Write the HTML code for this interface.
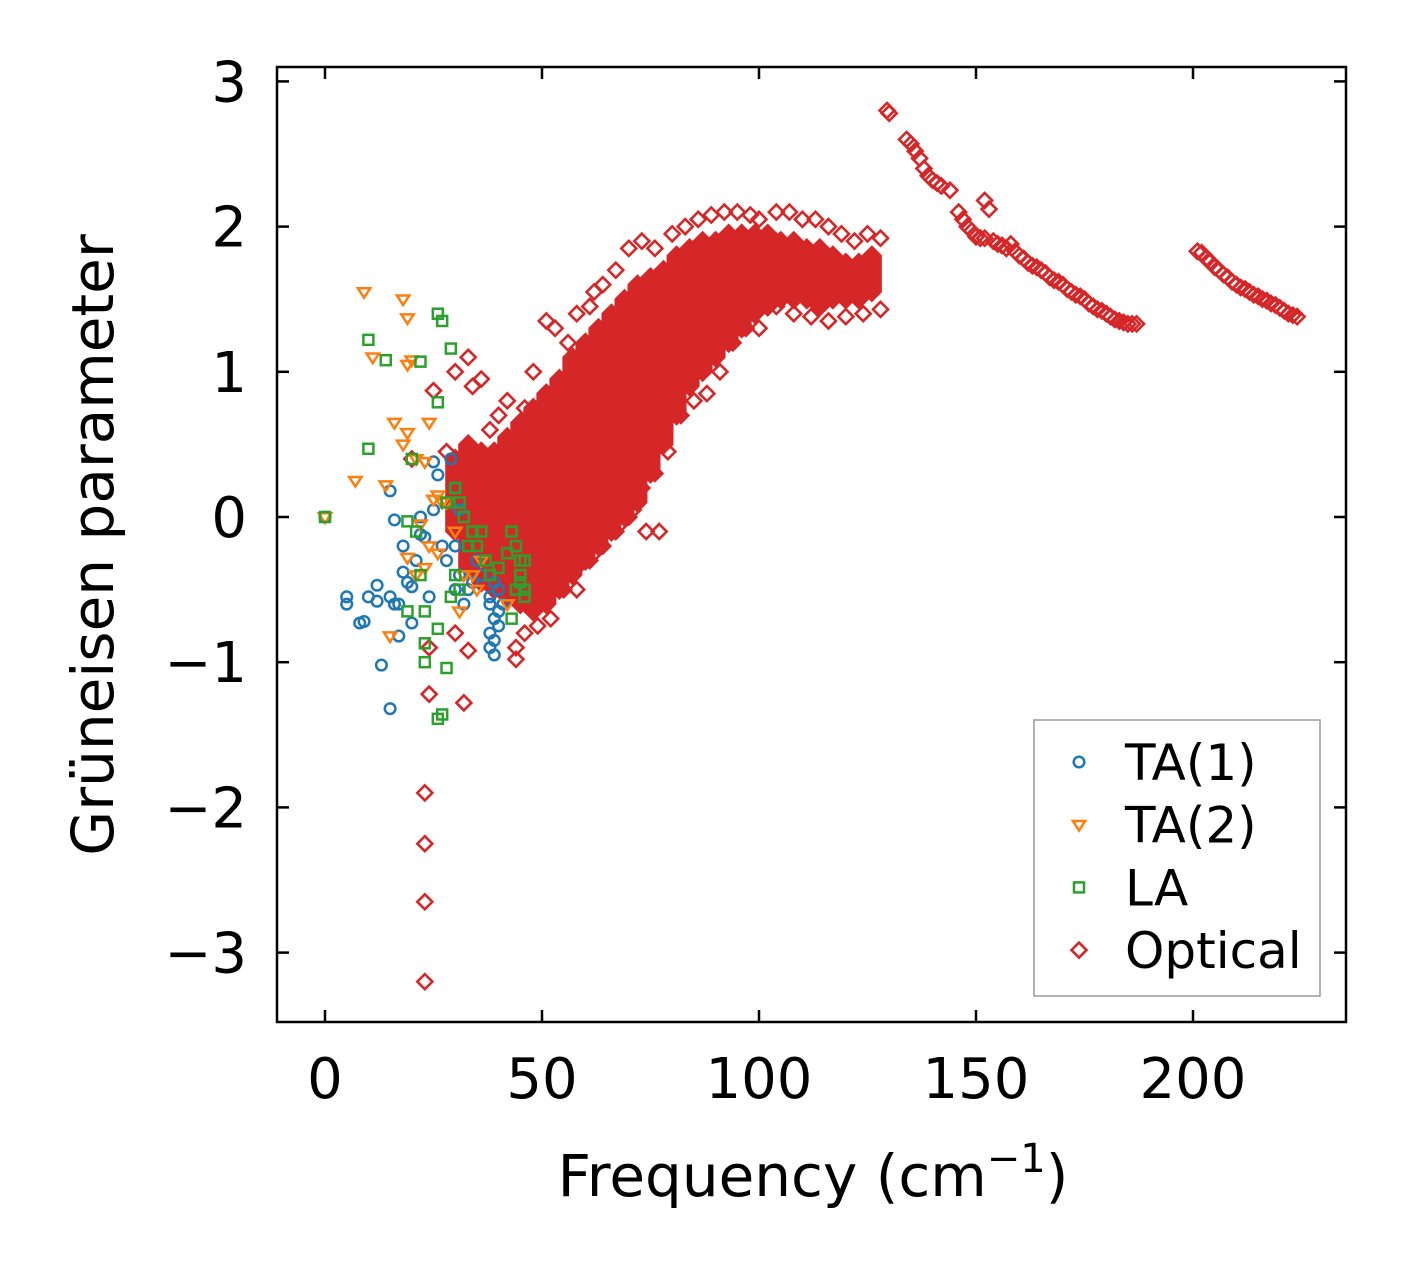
<!DOCTYPE html>
<html><head><meta charset="utf-8"><style>
html,body{margin:0;padding:0;background:#fff}
svg{display:block}
text{font-family:"DejaVu Sans","Liberation Sans",sans-serif;fill:#000}
</style></head><body>
<svg id="chart" width="1406" height="1270" viewBox="0 0 1406 1270" xmlns="http://www.w3.org/2000/svg">
<g id="marks"></g>
<g id="axes"></g>
</svg>
<script>
const xTicks=[0,50,100,150,200];
const yTicks=[-3,-2,-1,0,1,2,3];
const yTickLabels=["\u22123","\u22122","\u22121","0","1","2","3"];
const ta1=[[0,0],[5,-0.6],[5,-0.55],[8,-0.73],[9,-0.72],[10,-0.55],[12,-0.47],[12,-0.58],[13,-1.02],[15,0.18],[15,-0.55],[16,-0.02],[16,-0.6],[17,-0.6],[17,-0.82],[18,-0.2],[18,-0.38],[19,-0.45],[20,-0.48],[20,-0.73],[21,-0.3],[22,-0.12],[23,-0.14],[24,-0.55],[25,0.05],[25,0.38],[26,0.29],[27,-0.2],[28,-0.3],[29,0.4],[30,-0.5],[30,-0.2],[31,-0.4],[32,-0.6],[33,-0.5],[35,-0.3],[38,-0.6],[38,-0.8],[39,-0.7],[39,-0.95],[40,-0.5],[40,-0.75],[41,-0.6],[38,-0.9],[15,-1.32],[22,0.0],[30,0.2],[31,0.05],[34,-0.45],[36,-0.4],[39,-0.85],[40,-0.65],[38,-0.55],[39,-0.45]];
const ta2=[[0,0],[9,1.55],[11,1.1],[18,1.5],[19,1.37],[19,1.05],[20,1.08],[16,0.65],[18,0.5],[19,0.58],[24,0.65],[7,0.25],[14,0.22],[21,0.4],[23,0.38],[25,0.12],[26,0.15],[22,-0.05],[24,-0.2],[26,-0.25],[19,-0.28],[21,-0.4],[23,-0.35],[28,0.1],[30,-0.1],[32,-0.4],[34,-0.4],[15,-0.82],[36,-0.3],[42,-0.6],[35,-0.5],[31,-0.65],[27,0.1]];
const la=[[0,0],[10,1.22],[14,1.08],[22,1.07],[10,0.47],[26,0.79],[26,1.4],[27,1.35],[29,1.16],[20,0.4],[19,-0.03],[21,-0.1],[22,-0.4],[19,-0.65],[23,-0.65],[23,-0.87],[23,-1.0],[26,-0.77],[28,-1.04],[26,-1.39],[27,-1.36],[30,0.2],[31,0.1],[32,0.0],[33,-0.2],[34,-0.1],[35,-0.2],[36,-0.1],[37,-0.3],[38,-0.4],[40,-0.35],[43,-0.1],[44,-0.5],[45,-0.3],[45,-0.4],[46,-0.5],[46,-0.3],[44,-0.2],[42,-0.25],[43,-0.7],[30,-0.4],[31,-0.5],[28,0.1],[29,-0.55],[46,-0.55],[45,-0.45]];
const opticalBandF=[30,33,36,39,42,45,48,51,54,57,60,63,66,69,72,75,78,81,84,87,90,93,96,99,102,105,108,111,114,117,120,123,126];
const opticalBandLo=[-0.1,-0.35,-0.45,-0.5,-0.55,-0.6,-0.65,-0.6,-0.5,-0.4,-0.3,-0.2,-0.1,0,0.1,0.3,0.5,0.7,0.9,1.0,1.1,1.2,1.3,1.4,1.45,1.5,1.5,1.5,1.45,1.5,1.5,1.5,1.55];
const opticalBandHi=[0.4,0.5,0.45,0.45,0.55,0.65,0.75,0.85,0.95,1.1,1.2,1.3,1.4,1.5,1.6,1.65,1.7,1.8,1.85,1.9,1.9,1.95,1.95,1.95,1.95,1.9,1.9,1.85,1.85,1.8,1.75,1.75,1.8];
const optical=[[23,-1.9],[23,-2.25],[23,-2.65],[23,-3.2],[24,-1.22],[32,-1.28],[24,-0.9],[30,-0.8],[33,-0.92],[44,-0.98],[20,0.4],[25,0.87],[28,0.45],[30,1.0],[33,1.1],[34,0.9],[36,0.95],[40,0.7],[42,0.8],[46,0.75],[38,0.6],[48,1.0],[51,1.35],[53,1.3],[56,1.2],[58,1.4],[61,1.45],[62,1.55],[64,1.6],[67,1.7],[70,1.85],[73,1.9],[76,1.85],[80,1.95],[83,2.0],[86,2.05],[89,2.08],[92,2.1],[95,2.1],[98,2.08],[100,2.05],[104,2.1],[107,2.1],[110,2.05],[113,2.05],[116,2.0],[119,1.95],[122,1.9],[125,1.95],[128,1.92],[128,1.43],[124,1.4],[120,1.38],[116,1.35],[112,1.38],[108,1.4],[104,1.45],[100,1.3],[97,1.3],[94,1.2],[91,1.0],[88,0.85],[85,0.8],[82,0.7],[79,0.45],[76,0.3],[73,0.2],[70,0.0],[67,-0.1],[64,-0.2],[61,-0.3],[58,-0.35],[55,-0.5],[52,-0.7],[49,-0.75],[46,-0.8],[44,-0.9],[74,-0.1],[77,-0.1],[71,0.05],[68,-0.05],[62,-0.25],[58,-0.5],[129.5,2.8],[130,2.78],[134,2.6],[135,2.57],[136,2.52],[137,2.47],[138,2.4],[139,2.35],[140,2.32],[141,2.3],[142,2.28],[144,2.25],[146,2.1],[147,2.05],[148,2.0],[149,1.97],[150,1.93],[151,1.92],[152,2.18],[153,2.12],[152,1.92],[154,1.9],[155,1.88],[156,1.87],[157,1.85],[158,1.88],[159,1.83],[160,1.8],[161,1.78],[162,1.75],[163,1.73],[164,1.72],[165,1.7],[166,1.68],[167,1.65],[168,1.63],[169,1.62],[170,1.6],[171,1.57],[172,1.55],[173,1.53],[174,1.52],[175,1.5],[176,1.47],[177,1.45],[178,1.43],[179,1.42],[180,1.4],[181,1.38],[182,1.36],[183,1.35],[184,1.34],[185,1.33],[186,1.33],[187,1.33],[201,1.83],[202,1.82],[203,1.78],[204,1.76],[205,1.72],[206,1.7],[207,1.67],[208,1.65],[209,1.62],[210,1.6],[211,1.58],[212,1.57],[213,1.55],[214,1.53],[215,1.52],[216,1.5],[217,1.49],[218,1.47],[219,1.46],[220,1.44],[221,1.42],[222,1.4],[223,1.39],[224,1.38]];

const NS="http://www.w3.org/2000/svg";
const L=277,R=1346,T=67,B=1022;
const X0=325,XS=4.34, Y0=517,YS=145.2;
function sx(v){return X0+v*XS;}
function sy(v){return Y0-v*YS;}
function mk(tag,attrs,parent){const e=document.createElementNS(NS,tag);for(const k in attrs)e.setAttribute(k,attrs[k]);parent.appendChild(e);return e;}
const marks=document.getElementById('marks');
const axes=document.getElementById('axes');
const C={b:'#1f77b4',o:'#ff7f0e',g:'#2ca02c',r:'#d62728'};

function circle(x,y,col,parent){return mk('circle',{cx:x,cy:y,r:5.3,fill:'none',stroke:col,'stroke-width':2.5},parent);}
function tri(x,y,col,parent){const s=6.2;return mk('polygon',{points:`${x-s},${y-s*0.6} ${x+s},${y-s*0.6} ${x},${y+s*0.95}`,fill:'none',stroke:col,'stroke-width':2.5},parent);}
function sq(x,y,col,parent){return mk('rect',{x:x-5,y:y-5,width:10,height:10,fill:'none',stroke:col,'stroke-width':2.5},parent);}
function dia(x,y,col,parent,s){s=s||7.5;return mk('polygon',{points:`${x},${y-s} ${x+s},${y} ${x},${y+s} ${x-s},${y}`,fill:'none',stroke:col,'stroke-width':2.6},parent);}

const gOp=mk('g',{},marks);


opticalBandF.forEach((f,i)=>{
  const x=sx(f),y1=sy(opticalBandHi[i]),y2=sy(opticalBandLo[i]);
  const e=mk('polygon',{points:`${x},${y1-9} ${x+9},${y1} ${x+9},${y2} ${x},${y2+9} ${x-9},${y2} ${x-9},${y1}`,fill:C.r,stroke:C.r,'stroke-width':2},gOp);
  
  
});
optical.forEach(p=>{const e=dia(sx(p[0]),sy(p[1]),C.r,gOp);

});

const gT1=mk('g',{},marks);


ta1.forEach(p=>{const e=circle(sx(p[0]),sy(p[1]),C.b,gT1);

});
const gT2=mk('g',{},marks);


ta2.forEach(p=>{const e=tri(sx(p[0]),sy(p[1]),C.o,gT2);

});
const gLA=mk('g',{},marks);


la.forEach(p=>{const e=sq(sx(p[0]),sy(p[1]),C.g,gLA);

});

const fr=mk('rect',{x:L,y:T,width:R-L,height:B-T,fill:'none',stroke:'#000','stroke-width':2.5},axes);


xTicks.forEach(v=>{const x=sx(v);
  mk('line',{x1:x,y1:B,x2:x,y2:B-12,stroke:'#000','stroke-width':2.5},axes);
  mk('line',{x1:x,y1:T,x2:x,y2:T+12,stroke:'#000','stroke-width':2.5},axes);
  const t=mk('text',{x:x,y:1098,'text-anchor':'middle','font-size':56},axes);t.textContent=String(v);
  
  
});
yTicks.forEach((v,i)=>{const y=sy(v);
  mk('line',{x1:L,y1:y,x2:L+12,y2:y,stroke:'#000','stroke-width':2.5},axes);
  mk('line',{x1:R,y1:y,x2:R-12,y2:y,stroke:'#000','stroke-width':2.5},axes);
  const t=mk('text',{x:247,y:y+20,'text-anchor':'end','font-size':56},axes);t.textContent=yTickLabels[i];
  
  
});
const xl=mk('text',{x:813,y:1196,'text-anchor':'middle','font-size':58},axes);
xl.innerHTML='Frequency (cm<tspan dy="-24" font-size="40">\u22121</tspan><tspan dy="24">)</tspan>';


const yl=mk('text',{x:0,y:0,'text-anchor':'middle','font-size':58,transform:'translate(113,545) rotate(-90)'},axes);
yl.textContent='Grüneisen parameter';



const lg=mk('g',{},axes);


mk('rect',{x:1034,y:720,width:286,height:276,fill:'#fff',stroke:'#999','stroke-width':1.5},lg);
const entries=[['TA(1)',circle,C.b],['TA(2)',tri,C.o],['LA',sq,C.g],['Optical',dia,C.r]];
entries.forEach((en,i)=>{const y=762+i*62.7;
  const g=mk('g',{},lg);
  
  
  en[1](1079,y,en[2],g);
  const t=mk('text',{x:1125,y:y+18,'font-size':50},g);t.textContent=en[0];
});
</script>
</body></html>
